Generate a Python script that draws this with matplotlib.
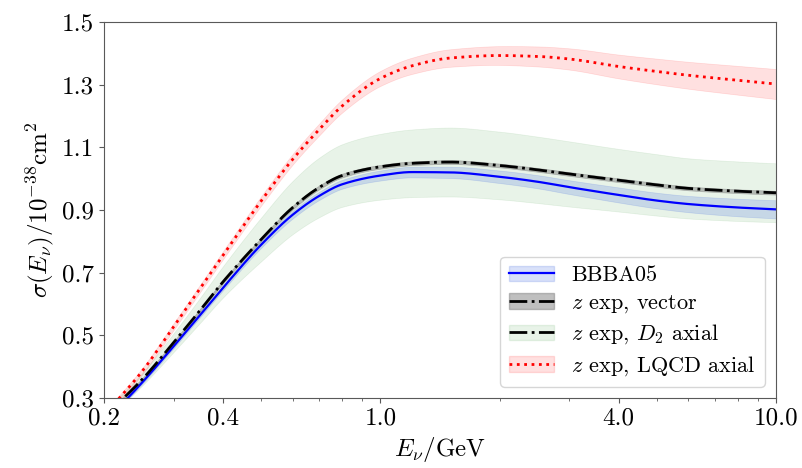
import numpy as np
import matplotlib
matplotlib.use("Agg")
import matplotlib.pyplot as plt
from matplotlib.patches import Patch
from matplotlib.lines import Line2D
from matplotlib.ticker import FixedLocator, FormatStrFormatter, NullFormatter, LogLocator

plt.rcParams["font.family"] = "cmr10"
plt.rcParams["mathtext.fontset"] = "cm"
plt.rcParams["axes.formatter.use_mathtext"] = True

# neutrino energy grid (GeV)
E_nu = [0.2, 0.25, 0.3, 0.35, 0.4, 0.5, 0.6, 0.7, 0.8, 1.0,
        1.2, 1.5, 2.0, 2.5, 3.0, 4.0, 5.0, 6.0, 8.0, 10.0]

# cross sections / 1e-38 cm^2
sig_bbba = [0.22, 0.35, 0.465, 0.565, 0.652, 0.79, 0.885, 0.945, 0.982, 1.01,
            1.021, 1.02, 1.006, 0.99, 0.973, 0.948, 0.93, 0.919, 0.908, 0.902]
err_bbba = [0.003, 0.005, 0.006, 0.007, 0.008, 0.010, 0.012, 0.013, 0.014, 0.016,
            0.017, 0.018, 0.020, 0.021, 0.022, 0.024, 0.025, 0.026, 0.028, 0.029]

sig_zexp = [0.24, 0.36, 0.477, 0.58, 0.671, 0.807, 0.908, 0.972, 1.01, 1.038,
            1.049, 1.053, 1.042, 1.028, 1.015, 0.995, 0.98, 0.969, 0.96, 0.955]
err_vec = [0.003, 0.004, 0.004, 0.005, 0.005, 0.005, 0.006, 0.006, 0.006, 0.006,
           0.006, 0.006, 0.006, 0.006, 0.006, 0.006, 0.006, 0.006, 0.006, 0.006]
err_d2 = [0.015, 0.02, 0.03, 0.04, 0.05, 0.07, 0.085, 0.095, 0.10, 0.105,
          0.108, 0.11, 0.108, 0.106, 0.104, 0.10, 0.098, 0.096, 0.095, 0.094]

sig_lqcd = [0.245, 0.386, 0.528, 0.65, 0.756, 0.93, 1.062, 1.157, 1.232, 1.32,
            1.36, 1.385, 1.393, 1.39, 1.382, 1.358, 1.342, 1.33, 1.314, 1.302]
err_lqcd = [0.008, 0.01, 0.011, 0.012, 0.013, 0.015, 0.017, 0.019, 0.021, 0.024,
            0.026, 0.028, 0.03, 0.032, 0.034, 0.038, 0.041, 0.043, 0.046, 0.048]

E = np.array(E_nu)
E_f = np.logspace(np.log10(E[0]), np.log10(E[-1]), 400)

def sm(v):
    # smooth cubic Hermite curve through the read-off points, in log E
    x = np.log(E)
    y = np.array(v, dtype=float)
    h = np.diff(x)
    d = np.diff(y) / h
    m = np.empty_like(y)
    m[0], m[-1] = d[0], d[-1]
    for i in range(1, len(y) - 1):
        if d[i - 1] * d[i] <= 0:
            m[i] = 0.0
        else:
            w1 = 2 * h[i] + h[i - 1]
            w2 = h[i] + 2 * h[i - 1]
            m[i] = (w1 + w2) / (w1 / d[i - 1] + w2 / d[i])
    xf = np.log(E_f)
    k = np.clip(np.searchsorted(x, xf) - 1, 0, len(x) - 2)
    t = (xf - x[k]) / h[k]
    h00 = 2 * t**3 - 3 * t**2 + 1
    h10 = t**3 - 2 * t**2 + t
    h01 = -2 * t**3 + 3 * t**2
    h11 = t**3 - t**2
    return h00 * y[k] + h10 * h[k] * m[k] + h01 * y[k + 1] + h11 * h[k] * m[k + 1]

fig = plt.figure(figsize=(8.02, 4.68), dpi=100)
ax = fig.add_axes([0.1297, 0.1496, 0.8379, 0.8034])

c_blue_band = "royalblue"
c_gray_band = "gray"
c_green_band = "forestgreen"
c_red_band = "red"

ax.fill_between(E_f, sm(sig_zexp) - sm(err_d2), sm(sig_zexp) + sm(err_d2),
                color=c_green_band, alpha=0.1, lw=0.5)
ax.fill_between(E_f, sm(sig_bbba) - sm(err_bbba), sm(sig_bbba) + sm(err_bbba),
                color=c_blue_band, alpha=0.2, lw=0.5)
ax.fill_between(E_f, sm(sig_zexp) - sm(err_vec), sm(sig_zexp) + sm(err_vec),
                color=c_gray_band, alpha=0.5, lw=0.5)
ax.fill_between(E_f, sm(sig_lqcd) - sm(err_lqcd), sm(sig_lqcd) + sm(err_lqcd),
                color=c_red_band, alpha=0.12, lw=0.5)

ax.plot(E_f, sm(sig_bbba), color="blue", lw=1.6)
ax.plot(E_f, sm(sig_zexp), color="black", ls="-.", lw=2.0)
ax.plot(E_f, sm(sig_lqcd), color="red", ls=":", lw=2.0)

ax.set_xscale("log")
ax.set_xlim(0.2, 10.0)
ax.set_ylim(0.3, 1.5)
ax.xaxis.set_major_locator(FixedLocator([0.2, 0.4, 1.0, 4.0, 10.0]))
ax.xaxis.set_major_formatter(FormatStrFormatter("%.1f"))
ax.xaxis.set_minor_locator(LogLocator(base=10, subs=np.arange(2, 10)))
ax.xaxis.set_minor_formatter(NullFormatter())
ax.set_yticks([0.3, 0.5, 0.7, 0.9, 1.1, 1.3, 1.5])
ax.yaxis.set_major_formatter(FormatStrFormatter("%.1f"))
ax.tick_params(axis="both", which="major", labelsize=18, color="0.35")
ax.tick_params(axis="both", which="minor", color="0.35")
for s in ax.spines.values():
    s.set_color("0.35")

ax.set_xlabel(r"$E_\nu/\mathrm{GeV}$", fontsize=18)
ax.set_ylabel(r"$\sigma(E_\nu)/10^{-38}\mathrm{cm}^2$", fontsize=18)

h_blue = (Patch(color=c_blue_band, alpha=0.2), Line2D([], [], color="blue", lw=1.6))
h_vec = (Patch(color=c_gray_band, alpha=0.5), Line2D([], [], color="black", ls="-.", lw=2.0))
h_d2 = (Patch(color=c_green_band, alpha=0.1), Line2D([], [], color="black", ls="-.", lw=2.0))
h_lqcd = (Patch(color=c_red_band, alpha=0.12), Line2D([], [], color="red", ls=":", lw=2.0))
ax.legend([h_blue, h_vec, h_d2, h_lqcd],
          ["BBBA05", r"$z$ exp, vector", r"$z$ exp, $D_2$ axial", r"$z$ exp, LQCD axial"],
          loc="lower right", fontsize=16, labelspacing=0.35)

fig.savefig("out.png", dpi=100)
